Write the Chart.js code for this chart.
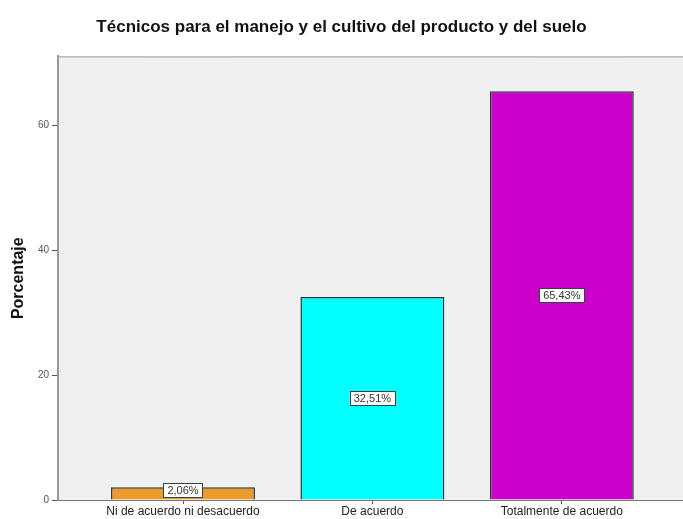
<!DOCTYPE html>
<html>
<head>
<meta charset="utf-8">
<script src="https://cdn.jsdelivr.net/npm/chart.js@4"></script>
<style>
  html, body { margin: 0; padding: 0; background: #fff; }
  #wrap { width: 683px; height: 519px; }
</style>
</head>
<body>
<div id="wrap"><canvas id="chart" width="683" height="519"></canvas></div>
<script>
// Datos
const categorias = ['Ni de acuerdo ni desacuerdo', 'De acuerdo', 'Totalmente de acuerdo'];
const porcentajes = [2.06, 32.51, 65.43];
const colores = ['#EE9A2A', '#00FFFF', '#CC00CC'];
const ticksY = [0, 20, 40, 60];

const FUENTE = '"Liberation Sans", Arial, sans-serif';

// fondo gris del área y etiquetas con recuadro
const plotDecor = {
    id: 'plotDecor',
    beforeDraw(chart) {
        const { ctx, chartArea: a } = chart;
        ctx.save();
        ctx.fillStyle = '#f0f0f0';
        ctx.fillRect(a.left, a.top, a.right - a.left, a.bottom - a.top);
        ctx.strokeStyle = '#9a9a9a';
        ctx.lineWidth = 1;
        ctx.beginPath();
        ctx.moveTo(a.left, a.top + 0.5);
        ctx.lineTo(a.right, a.top + 0.5);
        ctx.stroke();
        ctx.restore();
    },
    afterDatasetsDraw(chart) {
        const { ctx } = chart;
        const meta = chart.getDatasetMeta(0);
        ctx.save();
        ctx.font = '11px ' + FUENTE;
        ctx.textAlign = 'center';
        ctx.textBaseline = 'middle';
        meta.data.forEach((bar, i) => {
            const txt = porcentajes[i].toFixed(2).replace('.', ',') + '%';
            const y = (bar.y + bar.base) / 2 - (i === 0 ? 3 : 0);
            const w = ctx.measureText(txt).width + 8;
            const h = 14;
            ctx.fillStyle = '#fff';
            ctx.fillRect(bar.x - w / 2, y - h / 2, w, h);
            ctx.strokeStyle = '#2f4545';
            ctx.lineWidth = 1;
            ctx.strokeRect(Math.round(bar.x - w / 2) + 0.5, Math.round(y - h / 2) + 0.5, Math.round(w), h);
            ctx.fillStyle = '#333';
            ctx.fillText(txt, bar.x, y + 1);
        });
        ctx.restore();
    }
};

const ctx = document.getElementById('chart').getContext('2d');
new Chart(ctx, {
    type: 'bar',
    data: {
        datasets: [{
            data: porcentajes.map((v, i) => ({ x: i, y: v })),
            backgroundColor: colores,
            borderColor: '#1f3838',
            borderWidth: 1.5,
            barPercentage: 0.76,
            categoryPercentage: 1
        }]
    },
    options: {
        responsive: false,
        animation: false,
        layout: { padding: { left: 0, right: 0, top: 0, bottom: 0 } },
        plugins: {
            legend: { display: false },
            tooltip: { enabled: false },
            title: {
                display: true,
                text: 'Técnicos para el manejo y el cultivo del producto y del suelo',
                color: '#111',
                font: { family: FUENTE, size: 17, weight: 'bold' },
                padding: { top: 17, bottom: 19 }
            }
        },
        scales: {
            x: {
                type: 'linear',
                offset: false,
                min: -0.66,
                max: 2.64,
                afterBuildTicks(scale) {
                    scale.ticks = categorias.map((c, i) => ({ value: i }));
                },
                afterFit(scale) { scale.height = 19; },
                ticks: {
                    callback: (v) => categorias[v],
                    color: '#222',
                    font: { family: FUENTE, size: 12 },
                    padding: 0,
                    maxRotation: 0,
                    autoSkip: false
                },
                grid: { drawOnChartArea: false, drawTicks: true, tickLength: 4, color: '#555', offset: false },
                border: { color: '#777', width: 1 }
            },
            y: {
                min: 0,
                max: 71,
                afterBuildTicks(scale) {
                    scale.ticks = ticksY.map(v => ({ value: v }));
                },
                afterFit(scale) { scale.width = 58; },
                title: {
                    display: true,
                    text: 'Porcentaje',
                    color: '#111',
                    font: { family: FUENTE, size: 16, weight: 'bold' },
                    padding: { top: 9, bottom: 0 }
                },
                ticks: {
                    color: '#555',
                    font: { family: FUENTE, size: 10 },
                    padding: 3
                },
                grid: { drawOnChartArea: false, drawTicks: true, tickLength: 6, color: '#555' },
                border: { color: '#999', width: 2 }
            }
        }
    },
    plugins: [plotDecor]
});
</script>
</body>
</html>
